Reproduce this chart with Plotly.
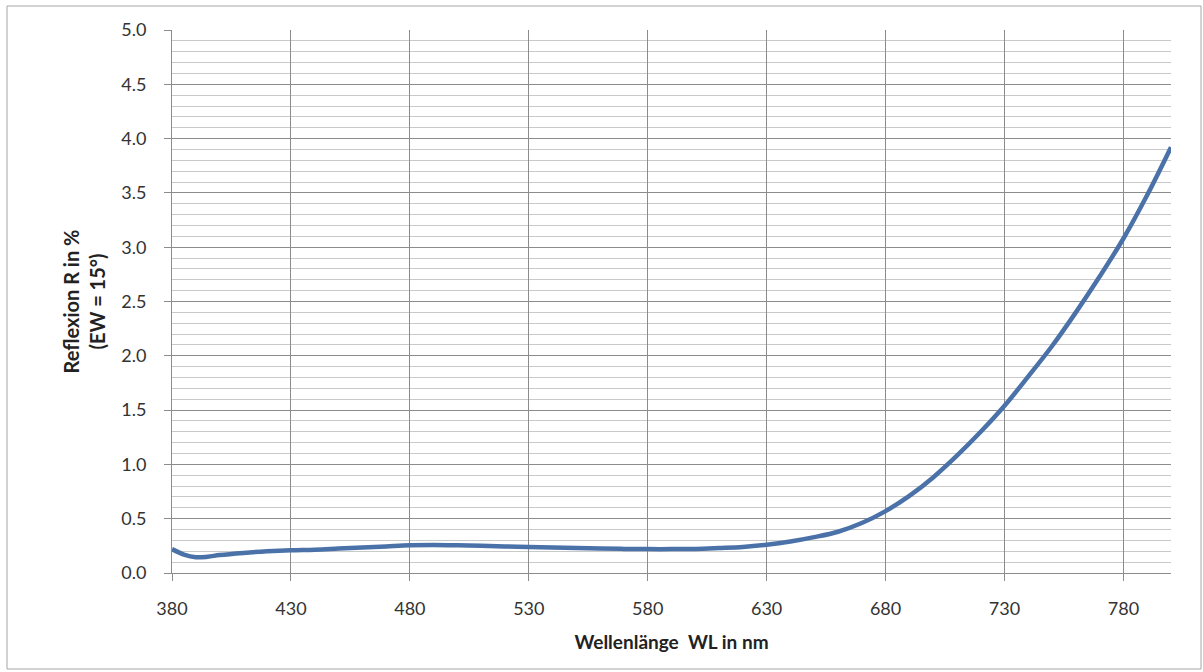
import plotly.graph_objects as go

# Spectral reflectance curve (wavelength in nm, reflectance in %)
wavelength = [380, 385, 390, 395, 400, 410, 420, 430, 440, 450, 460, 470, 480, 490,
              500, 510, 520, 530, 540, 550, 560, 570, 580, 590, 600, 610, 620, 630,
              640, 650, 660, 670, 680, 690, 700, 710, 720, 730, 740, 750, 760, 770,
              780, 790, 800]
reflexion = [0.22, 0.17, 0.145, 0.15, 0.165, 0.185, 0.20, 0.21, 0.215, 0.225, 0.235,
             0.245, 0.255, 0.258, 0.255, 0.25, 0.245, 0.24, 0.235, 0.23, 0.225, 0.222,
             0.22, 0.22, 0.222, 0.23, 0.24, 0.26, 0.29, 0.33, 0.38, 0.46, 0.57, 0.71,
             0.88, 1.08, 1.30, 1.54, 1.81, 2.09, 2.40, 2.73, 3.08, 3.48, 3.92]

x_ticks = [380, 430, 480, 530, 580, 630, 680, 730, 780]
y_ticks = [0.0, 0.5, 1.0, 1.5, 2.0, 2.5, 3.0, 3.5, 4.0, 4.5, 5.0]

FONT = "Lato, 'Open Sans', sans-serif"
ML, MR, MT, MB = 172, 32, 30, 99
W, H = 1203, 672
pw, ph = W - ML - MR, H - MT - MB

fig = go.Figure()
fig.add_trace(go.Scatter(
    x=wavelength, y=reflexion, mode="lines",
    line=dict(color="#4A72A8", width=4.5, shape="spline", smoothing=1.0),
    hoverinfo="x+y", showlegend=False,
))

axis_common = dict(
    showline=True, linecolor="#8c8c8c", linewidth=1,
    ticks="outside", ticklen=7, tickcolor="#8c8c8c", tickwidth=1,
    gridcolor="#8c8c8c", gridwidth=1, zeroline=False,
    tickfont=dict(family=FONT, size=18, color="#333333"),
    mirror=False,
)

fig.update_xaxes(
    range=[380, 800], tickvals=x_ticks, ticktext=[str(v) for v in x_ticks],
    ticklabelstandoff=12,
    title=dict(text="<b>Wellenlänge  WL in nm</b>",
               font=dict(family=FONT, size=19, color="#222222"), standoff=18),
    **axis_common,
)
fig.update_yaxes(
    range=[0, 5.0], tickvals=y_ticks, ticktext=[f"{v:.1f}" for v in y_ticks],
    ticklabelstandoff=14,
    minor=dict(dtick=0.1, tick0=0, showgrid=True, gridcolor="#c9c9c9", gridwidth=1, ticks=""),
    title=dict(text="<b>Reflexion R in %<br>(EW = 15°)</b>",
               font=dict(family=FONT, size=20, color="#222222"), standoff=10),
    **axis_common,
)

# Thin frame around the whole chart area
fig.add_shape(
    type="rect", xref="paper", yref="paper",
    x0=(7 - ML) / pw, x1=(1201 - ML) / pw,
    y0=(H - MB - 669) / ph, y1=(H - MB - 6) / ph,
    line=dict(color="#a6a6a6", width=1), fillcolor="rgba(0,0,0,0)", layer="below",
)

fig.update_layout(
    width=W, height=H,
    margin=dict(l=ML, r=MR, t=MT, b=MB),
    paper_bgcolor="white", plot_bgcolor="white",
    font=dict(family=FONT),
)

fig.write_html("out.html")
